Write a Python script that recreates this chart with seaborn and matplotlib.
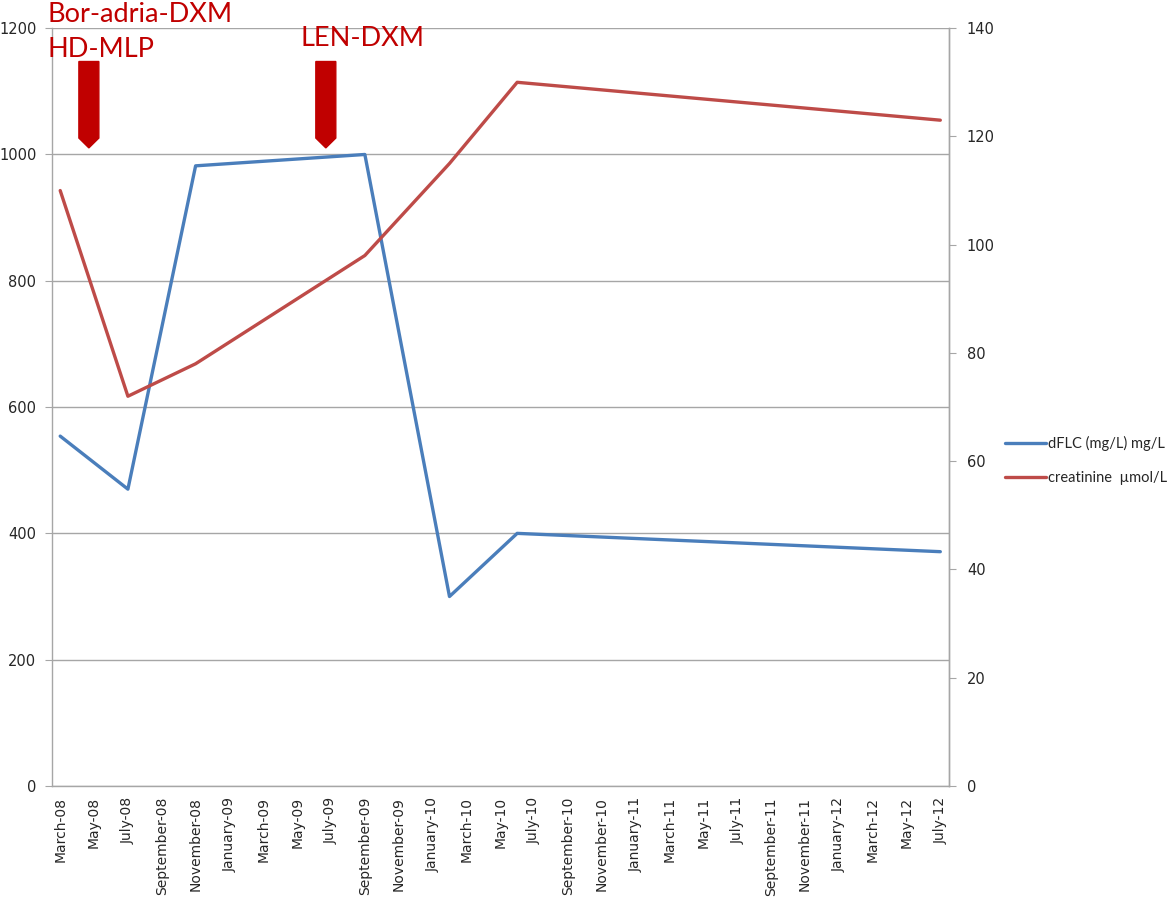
import pandas as pd
import matplotlib
matplotlib.use("Agg")
import matplotlib.pyplot as plt
import matplotlib.transforms as mtransforms
from matplotlib.patches import Polygon
from matplotlib.lines import Line2D
import seaborn as sns

dates = ["2008-03", "2008-07", "2008-11", "2009-09", "2010-02", "2010-06", "2012-07"]
dflc = [554, 470, 982, 1000, 300, 400, 371]
creatinine = [110, 72, 78, 98, 115, 130, 123]

# treatment starts
treat_dates = ["2008-05-07", "2009-07-07"]

start = pd.Period("2008-03", freq="M")
end = pd.Period("2012-07", freq="M")

BLUE = "#4A7EBB"
RED = "#BE4B48"
DARKRED = "#C00000"
GRID = "#A6A6A6"


def month_idx(s):
    return (pd.Period(s, freq="M") - start).n


def date_pos(s):
    d = pd.Timestamp(s)
    m = month_idx(s)
    return m - 0.5 + (d.day - 1) / d.days_in_month


df = pd.DataFrame({
    "month": [month_idx(d) for d in dates],
    "dflc": dflc,
    "creatinine": creatinine,
})

sns.set_style("white")
plt.rcParams["font.family"] = ["DejaVu Sans"]

fig = plt.figure(figsize=(11.68, 9), dpi=100)
ax = fig.add_axes([0.0443, 0.1267, 0.768, 0.842])
ax2 = ax.twinx()

sns.lineplot(data=df, x="month", y="dflc", ax=ax, color=BLUE, lw=2.4, legend=False)
sns.lineplot(data=df, x="month", y="creatinine", ax=ax2, color=RED, lw=2.4, legend=False)

n_months = (end - start).n
ax.set_xlim(-0.5, n_months + 0.5)
ax.set_ylim(0, 1200)
ax2.set_ylim(0, 140)
ax.set_yticks(range(0, 1201, 200))
ax2.set_yticks(range(0, 141, 20))
ax.yaxis.grid(True, color=GRID, lw=1.0)
ax.set_axisbelow(True)

# month labels every two months, tick marks at slot edges
lab_idx = list(range(0, n_months + 1, 2))
lab_txt = [(start + i).strftime("%B-%y") for i in lab_idx]
ax.set_xticks(lab_idx)
ax.set_xticklabels(lab_txt, rotation=90, fontsize=10)
ax.set_xticks([i - 0.5 for i in lab_idx], minor=True)
ax.tick_params(axis="x", which="major", length=0, pad=8)
ax.tick_params(axis="x", which="minor", length=5, color=GRID, direction="out")
ax.tick_params(axis="y", length=5, color=GRID, direction="out", labelsize=10.5, pad=6)
ax2.tick_params(axis="y", length=5, color=GRID, direction="out", labelsize=10.5, pad=8)
ax.set_xlabel("")
ax.set_ylabel("")
ax2.set_ylabel("")

for a in (ax, ax2):
    a.spines["top"].set_visible(False)
    for s in ("left", "right", "bottom"):
        a.spines[s].set_color(GRID)
        a.spines[s].set_linewidth(1.0)
ax2.spines["left"].set_visible(False)
ax2.spines["bottom"].set_visible(False)

# treatment arrows
trans = mtransforms.blended_transform_factory(ax.transData, ax.transAxes)
hw = 0.59
for t in treat_dates:
    x = date_pos(t)
    pts = [(x - hw, 0.956), (x + hw, 0.956), (x + hw, 0.855),
           (x, 0.842), (x - hw, 0.855)]
    ax.add_patch(Polygon(pts, closed=True, transform=trans, color=DARKRED,
                         clip_on=False, zorder=5))

tfont = dict(family=["Lato", "DejaVu Sans"], fontsize=19.5, color=DARKRED)
fig.text(47 / 1168, 1 - 22 / 900, "Bor-adria-DXM", va="baseline", **tfont)
fig.text(47 / 1168, 1 - 57 / 900, "HD-MLP", va="baseline", **tfont)
fig.text(300 / 1168, 1 - 46 / 900, "LEN-DXM", va="baseline", **tfont)

handles = [Line2D([], [], color=BLUE, lw=2.4), Line2D([], [], color=RED, lw=2.4)]
fig.legend(handles, ["dFLC (mg/L) mg/L", "creatinine  \u00b5mol/L"],
           loc="upper left", bbox_to_anchor=(1005 / 1168, 1 - 436 / 900),
           frameon=False, handlelength=2.8, handletextpad=0.15,
           borderpad=0, borderaxespad=0,
           labelspacing=1.35, prop={"family": ["Lato", "DejaVu Sans"], "size": 10.5})

fig.savefig("out.png", dpi=100)
